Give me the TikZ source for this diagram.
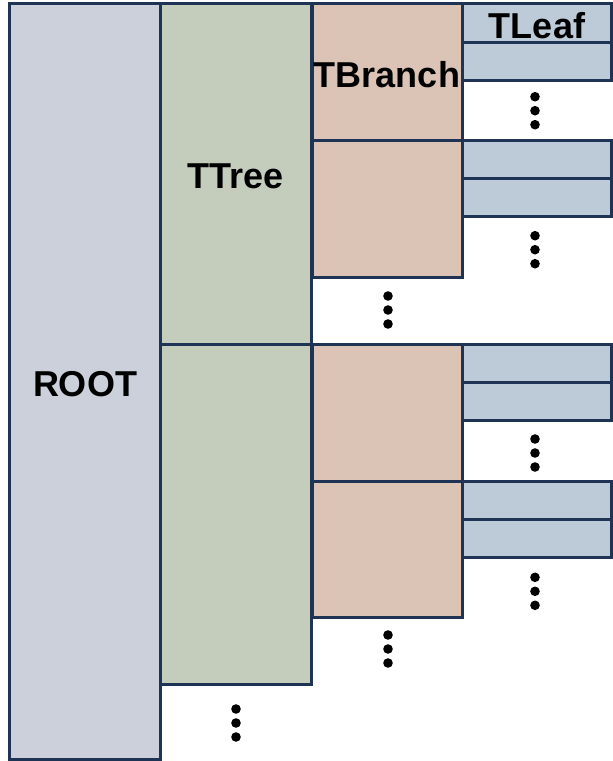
\documentclass[tikz,border=0pt]{standalone}
\usepackage{fontspec}
\setmainfont{Liberation Sans}
\definecolor{edge}{HTML}{1F3354}
\definecolor{rootc}{HTML}{CBD0DA}
\definecolor{treec}{HTML}{C4CCBC}
\definecolor{branchc}{HTML}{DBC4B5}
\definecolor{leafc}{HTML}{BDCBD8}
\tikzset{
  cell/.style={draw=edge, line width=3pt},
  rootbox/.style={cell, fill=rootc},
  treebox/.style={cell, fill=treec},
  branchbox/.style={cell, fill=branchc},
  leafbox/.style={cell, fill=leafc},
  lbl/.style={font=\fontsize{36}{36}\selectfont\bfseries, inner sep=0pt, anchor=base},
  dot/.style={circle, fill=black, inner sep=0pt, minimum size=9.6pt}
}
\begin{document}
\begin{tikzpicture}[x=1pt,y=-1pt]
\useasboundingbox (0,0) rectangle (613,761);
% ROOT
\path[rootbox] (9,3.5) rectangle (160,759);
% TTree
\path[treebox] (160,3.5) rectangle (311,344);
\path[treebox] (160,344) rectangle (311,684);
% TBranch
\path[branchbox] (312,3.5) rectangle (462,140);
\path[branchbox] (312,140) rectangle (462,277);
\path[branchbox] (312,344) rectangle (462,481);
\path[branchbox] (312,481) rectangle (462,617);
% TLeaf
\path[leafbox] (462,3.5) rectangle (611.5,42);
\path[leafbox] (462,42) rectangle (611.5,80);
\path[leafbox] (462,140) rectangle (611.5,178);
\path[leafbox] (462,178) rectangle (611.5,216.5);
\path[leafbox] (462,344) rectangle (611.5,382);
\path[leafbox] (462,382) rectangle (611.5,420.5);
\path[leafbox] (462,481) rectangle (611.5,519);
\path[leafbox] (462,519) rectangle (611.5,557.5);
% labels
\node[lbl] (lroot) at (85,396) {ROOT};
\node[lbl] (ltree) at (235.5,188) {TTree};
\node[lbl] (lbranch) at (387,87) {TBranch};
\node[lbl] (lleaf) at (537,38) {TLeaf};
% dots
\foreach \n/\x/\y in {a/535/96.7, b/535/235.7, c/388/296, d/535/439, e/535/577.3, f/388/635, g/236/709}{
  \node[dot] (\n1) at (\x,\y) {};
  \node[dot] (\n2) at (\x,\y+14) {};
  \node[dot] (\n3) at (\x,\y+28) {};
}
\end{tikzpicture}
\end{document}
